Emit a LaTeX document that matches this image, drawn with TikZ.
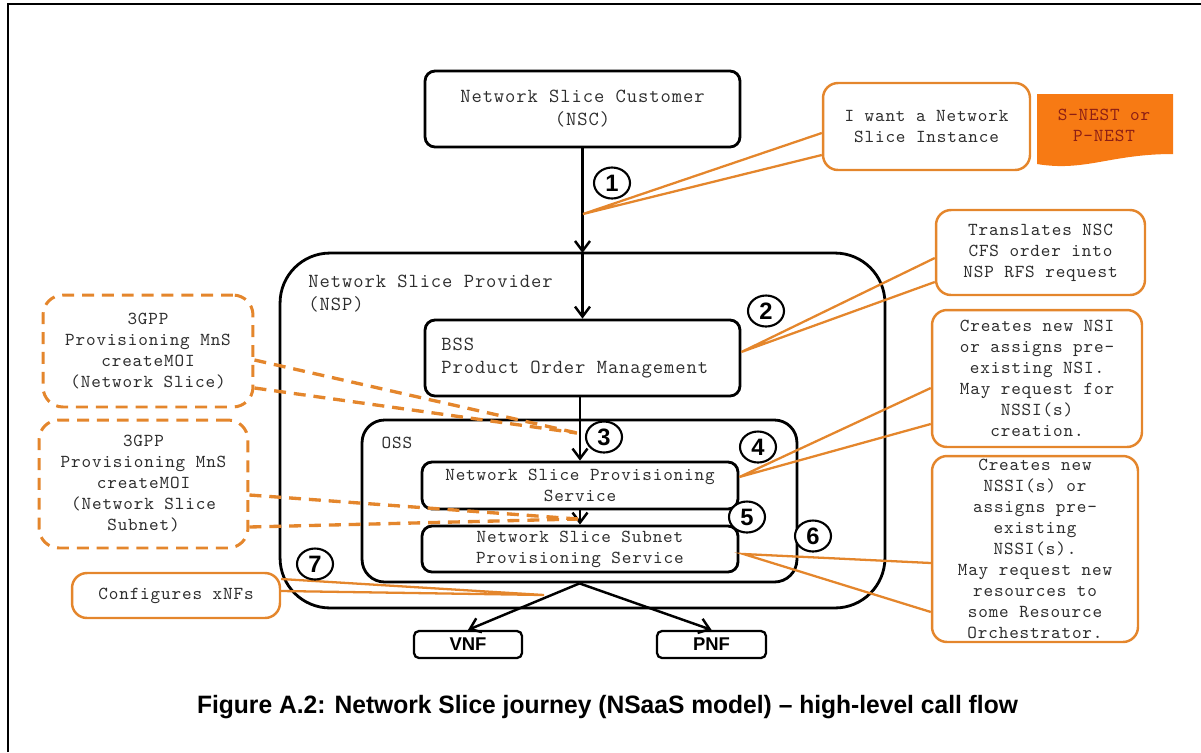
\documentclass[tikz,border=0pt]{standalone}
\usepackage{fontspec}
\usepackage{graphicx}
\setmainfont{Liberation Serif}
\setsansfont{Liberation Sans}
\newfontfamily\courfont{Latin Modern Mono}[LetterSpace=4.7]
\usetikzlibrary{arrows.meta,shapes.geometric}
\definecolor{orline}{RGB}{228,134,44}
\definecolor{tagfill}{RGB}{247,122,20}
\definecolor{tagtext}{RGB}{140,30,20}
\definecolor{txt}{RGB}{45,45,45}
\tikzset{
  bigtxt/.style={font=\courfont\fontsize{11.38pt}{13.1pt}\selectfont, text=txt},
  smalltxt/.style={font=\courfont\fontsize{10.41pt}{11.95pt}\selectfont, text=txt},
  blackbox/.style={draw=black, line width=1.6pt, rounded corners=0.2cm, inner sep=0pt, align=center},
  callout/.style={draw=orline, line width=1.4pt, rounded corners=0.3cm, inner sep=0pt, align=center, smalltxt},
  dcallout/.style={draw=orline, line width=1.7pt, dash pattern=on 6.8pt off 4.5pt, rounded corners=0.4cm, inner sep=0pt, align=center, smalltxt},
  pointer/.style={draw=orline, line width=1.3pt},
  dpointer/.style={draw=orline, line width=1.9pt, dash pattern=on 6.8pt off 4.5pt},
  arr/.style={draw=black, line width=1.4pt, -{Straight Barb[length=0.2cm,width=0.3cm,line width=1.4pt]}},
  stepnum/.style={ellipse, draw=black, fill=white, line width=1.2pt, minimum width=0.72cm, minimum height=0.62cm, inner sep=0pt, font=\sffamily\bfseries\fontsize{13.5pt}{15pt}\selectfont},
  nfbox/.style={draw=black, line width=1.3pt, rounded corners=0.1cm, inner sep=0pt, font=\sffamily\bfseries\fontsize{10.5pt}{12pt}\selectfont}
}
\begin{document}
\begin{tikzpicture}[x=0.02cm,y=-0.02cm]
\useasboundingbox (0,0) rectangle (1201,752);
% frame
\coordinate (fbl) at (8,752);
\coordinate (ftl) at (8,4);
\coordinate (ftr) at (1201,4);
\draw[line width=1.2pt] (fbl) -- (ftl) -- (ftr);

% provider and OSS containers
\node[blackbox, rounded corners=1cm, minimum width=12.1cm, minimum height=7.1cm] (nsp) at (582.5,430.5) {};
\node[blackbox, rounded corners=0.45cm, minimum width=8.7cm, minimum height=3.24cm] (oss) at (579.5,501) {};
\node[bigtxt, anchor=west, align=left, inner sep=0pt] (nsplabel) at (308,293.5) {Network Slice Provider\\(NSP)};
\node[smalltxt, inner sep=0pt] (osslabel) at (397,443) {OSS};

% main boxes
\node[blackbox, bigtxt, minimum width=6.3cm, minimum height=1.52cm] (nsc) at (582.5,109) {Network Slice Customer\\(NSC)};
\node[blackbox, minimum width=6.3cm, minimum height=1.52cm] (bss) at (582.5,358) {};
\node[bigtxt, anchor=west, align=left, inner sep=0pt] (bsslabel) at (441,358) {BSS\\Product Order Management};
\node[blackbox, smalltxt, minimum width=6.32cm, minimum height=0.94cm] (nsps) at (580,485.5) {Network Slice Provisioning\\Service};
\node[blackbox, smalltxt, minimum width=6.32cm, minimum height=0.92cm] (nssps) at (580,549) {Network Slice Subnet\\Provisioning Service};
\node[nfbox, minimum width=2.16cm, minimum height=0.54cm] (vnf) at (468,644.5) {VNF};
\node[nfbox, minimum width=2.18cm, minimum height=0.54cm] (pnf) at (711.5,644.5) {PNF};

% arrows
\coordinate (nsptop) at (582.5,253);
\draw[arr] (nsc.south) -- (nsptop);
\draw[arr] (nsptop) -- (bss.north);
\draw[arr] (nsps.north |- bss.south) -- (nsps.north);
\draw[arr] (nsps.south) -- (nssps.north);
\draw[arr] (oss.south) -- (vnf.north);
\draw[arr] (oss.south) -- (pnf.north);

% callouts
\node[callout, minimum width=4.14cm, minimum height=1.74cm] (c1) at (926.5,126.5) {I want a Network\\Slice Instance};
\node[callout, minimum width=4.18cm, minimum height=1.7cm] (c2) at (1040.5,252.5) {Translates NSC\\CFS order into\\NSP RFS request};
\node[callout, minimum width=4.2cm, minimum height=2.74cm] (c3) at (1037,378.5) {Creates new NSI\\or assigns pre-\\existing NSI.\\May request for\\NSSI(s)\\creation.};
\node[callout, minimum width=4.12cm, minimum height=3.72cm] (c4) at (1035,549) {Creates new\\NSSI(s) or\\assigns pre-\\existing\\NSSI(s).\\May request new\\resources to\\some Resource\\Orchestrator.};
\node[callout, minimum width=4.16cm, minimum height=0.9cm] (c7) at (176,595.5) {Configures xNFs};
\node[dcallout, minimum width=4.2cm, minimum height=2.24cm] (d1) at (148,351) {3GPP\\Provisioning MnS\\createMOI\\(Network Slice)};
\node[dcallout, minimum width=4.18cm, minimum height=2.56cm] (d2) at (143.5,484) {3GPP\\Provisioning MnS\\createMOI\\(Network Slice\\Subnet)};

% tag
\fill[tagfill] (1037,94) -- (1173,94) -- (1173,154) .. controls (1110,154) and (1085,172) .. (1037,164) -- cycle;
\node[smalltxt, text=tagtext, align=center, inner sep=0pt] (tag) at (1104,125) {S-NEST or\\P-NEST};

% pointers
\coordinate (a1) at (583,214);
\draw[pointer] ([yshift=-0.13cm]c1.west) -- (a1) -- ([yshift=-0.57cm]c1.west);
\draw[pointer] ([yshift=-0.11cm]c2.west) -- ([yshift=0.12cm]bss.east) -- ([yshift=-0.59cm]c2.west);
\draw[pointer] ([yshift=-0.19cm]c3.west) -- ([yshift=0.17cm]nsps.east) -- ([yshift=-0.91cm]c3.west);
\draw[pointer] ([yshift=-0.28cm]c4.west) -- ([shift={(0.08cm,-0.1cm)}]nssps.east) -- ([yshift=-1.26cm]c4.west);
\coordinate (a7) at (544,595);
\draw[pointer] ([yshift=0.33cm]c7.east) -- (a7) -- ([yshift=0.09cm]c7.east);
\coordinate (a3) at (577,433);
\draw[dpointer] ([yshift=-0.18cm]d1.east) -- (a3);
\draw[dpointer] ([yshift=-0.74cm]d1.east) -- (a3);
\coordinate (a5) at (578,519);
\draw[dpointer] ([yshift=-0.22cm]d2.east) -- (a5);
\draw[dpointer] ([yshift=-0.86cm]d2.east) -- (a5);

% step numbers
\node[stepnum] (s1) at (612,183) {1};
\node[stepnum] (s2) at (766,311) {2};
\node[stepnum] (s3) at (604,437) {3};
\node[stepnum] (s4) at (758,447) {4};
\node[stepnum] (s5) at (747,517) {5};
\node[stepnum] (s6) at (813,536) {6};
\node[stepnum] (s7) at (315,564) {7};

% caption
\node[inner sep=0pt] (caption) at (607.5,707) {\resizebox{16.42cm}{\height}{\sffamily\bfseries\fontsize{14.3pt}{16pt}\selectfont Figure A.2: Network Slice journey (NSaaS model) -- high-level call flow}};
\end{tikzpicture}
\end{document}
